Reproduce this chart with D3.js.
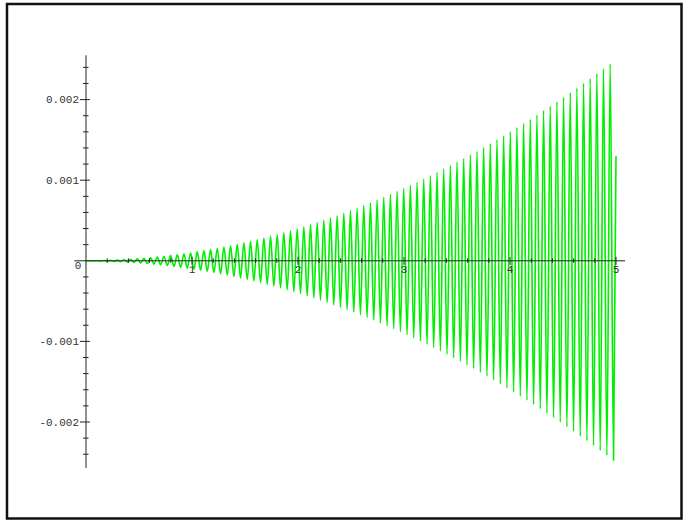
<!DOCTYPE html>
<html><head><meta charset="utf-8">
<script src="https://cdn.jsdelivr.net/npm/d3@7"></script>
<style>
html,body{margin:0;padding:0;background:#fff;}
svg{display:block;}
</style>
</head><body>
<svg id="chart" width="683" height="521"></svg>
<script>
// x positions of the successive crests/troughs (plus both ends)
const crestX = [0, 0.0444, 0.0758, 0.1072, 0.1386, 0.1701, 0.2015, 0.2329, 0.2643, 0.2957, 0.3271,
 0.3586, 0.3900, 0.4214, 0.4528, 0.4842, 0.5156, 0.5471, 0.5785, 0.6099, 0.6413,
 0.6727, 0.7041, 0.7356, 0.7670, 0.7984, 0.8298, 0.8612, 0.8926, 0.9241, 0.9555,
 0.9869, 1.0183, 1.0497, 1.0811, 1.1126, 1.1440, 1.1754, 1.2068, 1.2382, 1.2696,
 1.3010, 1.3325, 1.3639, 1.3953, 1.4267, 1.4581, 1.4895, 1.5210, 1.5524, 1.5838,
 1.6152, 1.6466, 1.6780, 1.7095, 1.7409, 1.7723, 1.8037, 1.8351, 1.8665, 1.8979,
 1.9294, 1.9608, 1.9922, 2.0236, 2.0550, 2.0864, 2.1179, 2.1493, 2.1807, 2.2121,
 2.2435, 2.2749, 2.3064, 2.3378, 2.3692, 2.4006, 2.4320, 2.4634, 2.4949, 2.5263,
 2.5577, 2.5891, 2.6205, 2.6519, 2.6834, 2.7148, 2.7462, 2.7776, 2.8090, 2.8404,
 2.8718, 2.9033, 2.9347, 2.9661, 2.9975, 3.0289, 3.0603, 3.0918, 3.1232, 3.1546,
 3.1860, 3.2174, 3.2488, 3.2802, 3.3117, 3.3431, 3.3745, 3.4059, 3.4373, 3.4687,
 3.5002, 3.5316, 3.5630, 3.5944, 3.6258, 3.6572, 3.6886, 3.7201, 3.7515, 3.7829,
 3.8143, 3.8457, 3.8771, 3.9086, 3.9400, 3.9714, 4.0028, 4.0342, 4.0656, 4.0971,
 4.1285, 4.1599, 4.1913, 4.2227, 4.2541, 4.2855, 4.3170, 4.3484, 4.3798, 4.4112,
 4.4426, 4.4740, 4.5055, 4.5369, 4.5683, 4.5997, 4.6311, 4.6625, 4.6939, 4.7254,
 4.7568, 4.7882, 4.8196, 4.8510, 4.8824, 4.9139, 4.9453, 4.9767, 5.0];

// y values at those crests/troughs
const crestY = [0, 0.002e-4, -0.006e-4, 0.011e-4, -0.019e-4, 0.029e-4, -0.041e-4, 0.054e-4, -0.070e-4, 0.087e-4, -0.107e-4,
 0.129e-4, -0.152e-4, 0.178e-4, -0.205e-4, 0.235e-4, -0.266e-4, 0.299e-4, -0.335e-4, 0.372e-4, -0.411e-4,
 0.453e-4, -0.496e-4, 0.541e-4, -0.588e-4, 0.637e-4, -0.689e-4, 0.742e-4, -0.797e-4, 0.854e-4, -0.913e-4,
 0.974e-4, -1.037e-4, 1.102e-4, -1.169e-4, 1.238e-4, -1.309e-4, 1.382e-4, -1.456e-4, 1.533e-4, -1.612e-4,
 1.693e-4, -1.776e-4, 1.860e-4, -1.947e-4, 2.036e-4, -2.126e-4, 2.219e-4, -2.313e-4, 2.410e-4, -2.508e-4,
 2.609e-4, -2.711e-4, 2.816e-4, -2.922e-4, 3.031e-4, -3.141e-4, 3.253e-4, -3.368e-4, 3.484e-4, -3.602e-4,
 3.723e-4, -3.845e-4, 3.969e-4, -4.095e-4, 4.223e-4, -4.353e-4, 4.486e-4, -4.620e-4, 4.756e-4, -4.893e-4,
 5.033e-4, -5.175e-4, 5.320e-4, -5.465e-4, 5.613e-4, -5.763e-4, 5.915e-4, -6.068e-4, 6.225e-4, -6.382e-4,
 6.542e-4, -6.703e-4, 6.867e-4, -7.033e-4, 7.201e-4, -7.370e-4, 7.542e-4, -7.715e-4, 7.891e-4, -8.068e-4,
 8.247e-4, -8.429e-4, 8.613e-4, -8.798e-4, 8.985e-4, -9.174e-4, 9.365e-4, -9.559e-4, 9.754e-4, -9.952e-4,
 10.150e-4, -10.352e-4, 10.555e-4, -10.760e-4, 10.967e-4, -11.176e-4, 11.387e-4, -11.600e-4, 11.815e-4, -12.032e-4,
 12.251e-4, -12.472e-4, 12.695e-4, -12.920e-4, 13.146e-4, -13.375e-4, 13.606e-4, -13.839e-4, 14.074e-4, -14.310e-4,
 14.549e-4, -14.789e-4, 15.032e-4, -15.277e-4, 15.524e-4, -15.772e-4, 16.022e-4, -16.275e-4, 16.529e-4, -16.786e-4,
 17.045e-4, -17.305e-4, 17.567e-4, -17.831e-4, 18.097e-4, -18.366e-4, 18.636e-4, -18.909e-4, 19.183e-4, -19.459e-4,
 19.737e-4, -20.017e-4, 20.300e-4, -20.583e-4, 20.869e-4, -21.157e-4, 21.447e-4, -21.739e-4, 22.033e-4, -22.329e-4,
 22.627e-4, -22.927e-4, 23.229e-4, -23.532e-4, 23.838e-4, -24.146e-4, 24.456e-4, -24.768e-4, 13.0e-4];

const xMajorTicks = [1, 2, 3, 4, 5];
const xTickLabels = ["1", "2", "3", "4", "5"];
const xMinorTicks = [0.2,0.4,0.6,0.8,1.2,1.4,1.6,1.8,2.2,2.4,2.6,2.8,3.2,3.4,3.6,3.8,4.2,4.4,4.6,4.8];
const yMajorTicks = [-0.002, -0.001, 0.001, 0.002];
const yTickLabels = ["-0.002", "-0.001", "0.001", "0.002"];
const yMinorTicks = [-0.0024,-0.0022,-0.0018,-0.0016,-0.0014,-0.0012,-0.0008,-0.0006,-0.0004,-0.0002,
  0.0002,0.0004,0.0006,0.0008,0.0012,0.0014,0.0016,0.0018,0.0022,0.0024];
const xAxisExtent = [-0.11, 5.085];
const yAxisExtent = [-0.00257, 0.00255];
const originLabel = "0";

const svg = d3.select("#chart");
const x = d3.scaleLinear().domain([0, 5]).range([86, 616]);
const y = d3.scaleLinear().domain([-0.002, 0.002]).range([422, 99.6]);
const data = crestX.map((v, i) => [v, crestY[i]]);

// frame
svg.append("rect").attr("x", 7).attr("y", 4).attr("width", 674.5).attr("height", 514.5)
  .attr("fill", "#fff").attr("stroke", "#111").attr("stroke-width", 2.5);

// curve
svg.append("path").datum(data)
  .attr("fill", "none").attr("stroke", "#00ee00").attr("stroke-width", 1.6)
  .attr("stroke-linejoin", "round")
  .attr("d", d3.line().x(d => x(d[0])).y(d => y(d[1])).curve(d3.curveMonotoneX));

const axisColor = "#222";
const g = svg.append("g").attr("stroke", axisColor).attr("stroke-width", 1);
// axis lines
g.append("line").attr("x1", x(xAxisExtent[0])).attr("x2", x(xAxisExtent[1]))
  .attr("y1", y(0)).attr("y2", y(0));
g.append("line").attr("x1", x(0)).attr("x2", x(0))
  .attr("y1", y(yAxisExtent[0])).attr("y2", y(yAxisExtent[1]));
// ticks crossing axes
g.selectAll(".xmaj").data(xMajorTicks).join("line")
  .attr("x1", d => x(d)).attr("x2", d => x(d)).attr("y1", y(0) - 4).attr("y2", y(0) + 4);
g.selectAll(".xmin").data(xMinorTicks).join("line")
  .attr("x1", d => x(d)).attr("x2", d => x(d)).attr("y1", y(0) - 2.5).attr("y2", y(0) + 2);
g.selectAll(".ymaj").data(yMajorTicks).join("line")
  .attr("x1", x(0) - 6).attr("x2", x(0) + 4).attr("y1", d => y(d)).attr("y2", d => y(d));
g.selectAll(".ymin").data(yMinorTicks).join("line")
  .attr("x1", x(0) - 3).attr("x2", x(0) + 2.5).attr("y1", d => y(d)).attr("y2", d => y(d));

// labels
const font = "'Liberation Mono', 'Courier New', monospace";
const t = svg.append("g").attr("font-family", font).attr("font-size", 11).attr("fill", "#333");
t.selectAll(".xl").data(xMajorTicks).join("text")
  .attr("x", d => x(d)).attr("y", y(0) + 12).attr("text-anchor", "middle")
  .text((d, i) => xTickLabels[i]);
t.selectAll(".yl").data(yMajorTicks).join("text")
  .attr("x", x(0) - 7).attr("y", d => y(d) + 3.5).attr("text-anchor", "end")
  .text((d, i) => yTickLabels[i]);
t.append("text").attr("x", x(0) - 8).attr("y", y(0) + 8).attr("text-anchor", "middle").text(originLabel);
</script>
</body></html>
